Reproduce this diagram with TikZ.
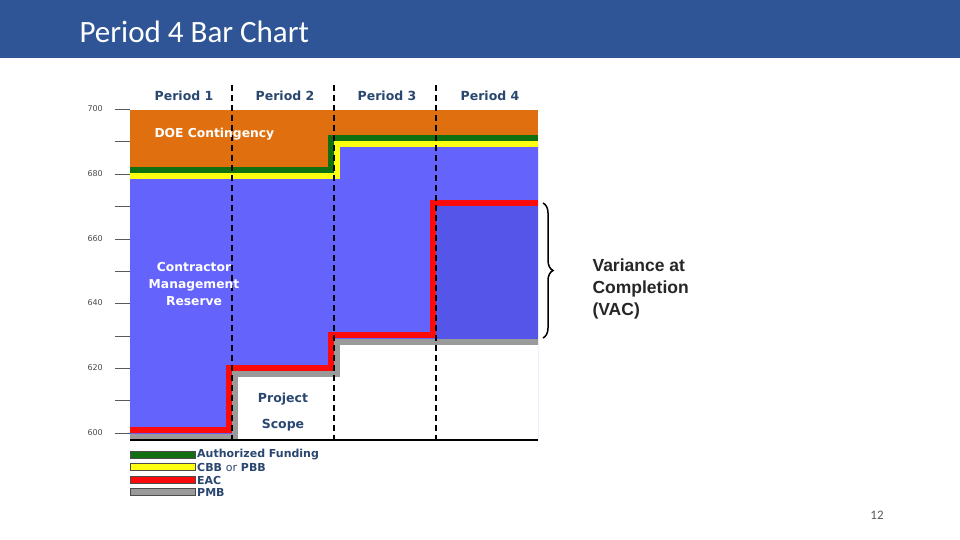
\documentclass[tikz,border=0pt]{standalone}
\usepackage{fontspec}
\setmainfont{DejaVu Sans}
\newfontfamily\titlefont{Carlito}
\newfontfamily\arialfont{Liberation Sans}
\usetikzlibrary{decorations.pathreplacing}
\definecolor{hdr}{HTML}{2F5597}
\definecolor{orng}{HTML}{E0700F}
\definecolor{blu}{HTML}{6464FC}
\definecolor{dblu}{HTML}{5555EA}
\definecolor{grn}{HTML}{107010}
\definecolor{yel}{HTML}{FFFF10}
\definecolor{rd}{HTML}{FF0A0A}
\definecolor{gry}{HTML}{9A9A9A}
\definecolor{navy}{HTML}{2A4770}
\tikzset{
  lbl/.style={font=\bfseries\fontsize{12.5}{14}\selectfont, text=navy},
  wlbl/.style={font=\bfseries\fontsize{12.3}{17}\selectfont, text=white, align=center},
  tick/.style={gray!70!black, line width=0.6pt},
  ticklbl/.style={font=\fontsize{8}{10}\selectfont, text=gray!60!black, anchor=west},
  divider/.style={black, line width=1.3pt, dash pattern=on 6pt off 4pt},
  stepline/.style={line width=6pt, line join=miter},
  legbar/.style={draw=black!70, line width=0.6pt},
  leglbl/.style={lbl, anchor=west, font=\bfseries\fontsize{11}{12}\selectfont, inner sep=1pt}
}
\begin{document}
\begin{tikzpicture}[x=1pt,y=-1pt]
\useasboundingbox (0,0) rectangle (960,540);
\fill[white] (0,0) rectangle (960,540);
% header
\fill[hdr] (0,0) rectangle (960,58);
\node[anchor=west, text=white, font=\titlefont\fontsize{31}{34}\selectfont] (title) at (76,32) {Period 4 Bar Chart};
% fills
\fill[orng] (130,110) rectangle (538,440);
\fill[blu] (130,176) -- (337,176) -- (337,144) -- (538,144) -- (538,440) -- (130,440) -- cycle;
\fill[white] (238,440) -- (238,377) -- (340,377) -- (340,345) -- (538,345) -- (538,440) -- cycle;
\fill[dblu] (436,206) rectangle (538,339);
% lines
\draw[stepline, gry] (130,437) -- (235,437) -- (235,374) -- (337,374) -- (337,342) -- (538,342);
\draw[stepline, rd] (130,430) -- (229,430) -- (229,368) -- (331,368) -- (331,335) -- (433,335) -- (433,203) -- (538,203);
\draw[stepline, yel] (130,176) -- (337,176) -- (337,144) -- (538,144);
\draw[stepline, grn] (130,170) -- (331,170) -- (331,138) -- (538,138);
% axis ticks
\foreach \y/\t in {109/700,174/680,239/660,303/640,368/620,433/600}{
  \draw[tick] (115,\y) -- (130,\y);
  \node[ticklbl] at (84,\y) {\t};
}
\foreach \y in {141,206,271,336,400}{\draw[tick] (115,\y) -- (130,\y);}
\draw[black, line width=1.5pt] (130,440) -- (538,440);
% dividers
\foreach \x in {232,334,436}{\draw[divider] (\x,85) -- (\x,440);}
% period labels
\node[lbl] (p1) at (184,96) {Period 1};
\node[lbl] (p2) at (285,96) {Period 2};
\node[lbl] (p3) at (387,96) {Period 3};
\node[lbl] (p4) at (490,96) {Period 4};
% labels
\node[wlbl, anchor=west] (doe) at (151,134) {DOE Contingency};
\node[wlbl] (cmr) at (194,284) {Contractor\\Management\\Reserve};
\node[lbl] (proj) at (283,399) {Project};
\node[lbl] (scope) at (283,425) {Scope};
% brace
\coordinate (bt) at (543,203);
\coordinate (bb) at (543,338);
\draw[black, line width=1.5pt, decorate, decoration={brace, amplitude=10pt}] (bt) -- (bb);
\node[anchor=west, align=left, font=\arialfont\bfseries\fontsize{17.5}{22}\selectfont, text=black!85] (vac) at (589,289) {Variance at\\Completion\\(VAC)};
% legend
\foreach \y/\c in {455/grn,467/yel,480/rd,492/gry}{
  \draw[legbar, fill=\c] (130,\y-3.5) rectangle (195,\y+3.5);
}
\node[leglbl] (l1) at (196,455) {Authorized Funding};
\node[leglbl] (l2) at (196,467) {CBB \mdseries or\bfseries{} PBB};
\node[leglbl] (l3) at (196,480) {EAC};
\node[leglbl] (l4) at (196,492) {PMB};
% page number
\node[text=gray!70!black, font=\titlefont\fontsize{13}{14}\selectfont] (pg) at (877,515) {12};
\end{tikzpicture}
\end{document}
